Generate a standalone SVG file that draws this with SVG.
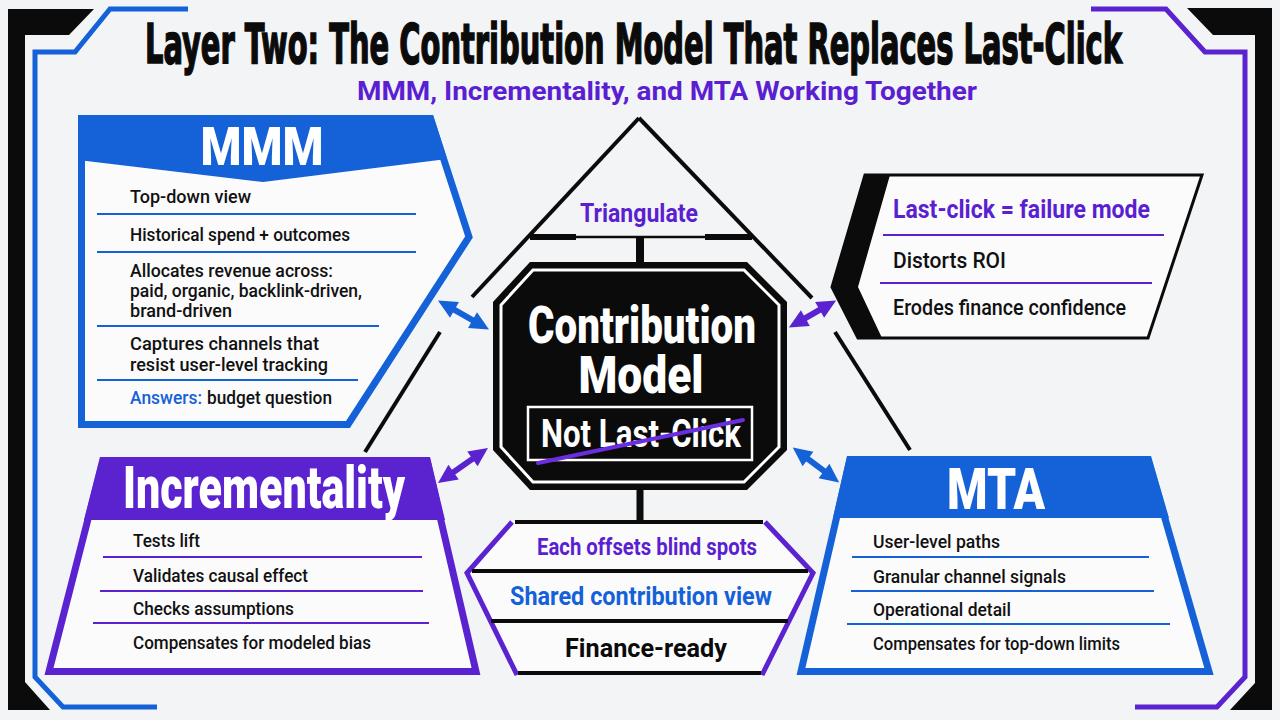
<svg xmlns="http://www.w3.org/2000/svg" width="1280" height="720" viewBox="0 0 1280 720">
<defs>
<style>
.title{font-family:"DejaVu Sans","Liberation Sans",sans-serif;font-weight:bold;font-stretch:condensed;font-size:56px;fill:#0b0b0b;stroke:#0b0b0b;stroke-width:1.6px}
.sub{font-family:Roboto,"Liberation Sans",sans-serif;font-weight:700;font-size:25px;fill:#5b1fd2}
.item{font-family:Roboto,"Liberation Sans",sans-serif;font-weight:500;font-size:19px;fill:#111}
.hdr{font-family:Roboto,"Liberation Sans",sans-serif;font-weight:900;fill:#fff}
.ctr{font-family:Roboto,"Liberation Sans",sans-serif;font-weight:900;fill:#fff}
.bold{font-family:Roboto,"Liberation Sans",sans-serif;font-weight:700}
.blueS{stroke:#1461d8}
.purpS{stroke:#5b22d0}
.sep{stroke-width:2;fill:none}
.tri{stroke:#0b0b0b;stroke-width:4;fill:none}
.arrB{stroke:#1461d8;stroke-width:6;fill:none}
.arrP{stroke:#5b22d0;stroke-width:6;fill:none}
</style>
<marker id="hb" markerUnits="userSpaceOnUse" markerWidth="20" markerHeight="18" refX="4" refY="9" orient="auto-start-reverse" overflow="visible"><path d="M0,0 L19,9 L0,18 z" fill="#1461d8"/></marker>
<marker id="hp" markerUnits="userSpaceOnUse" markerWidth="20" markerHeight="18" refX="4" refY="9" orient="auto-start-reverse" overflow="visible"><path d="M0,0 L19,9 L0,18 z" fill="#5b22d0"/></marker>
</defs>
<rect width="1280" height="720" fill="#f3f4f5"/>

<g id="frame">
<polygon points="8,9 94,9 69,35 25,35 25,682 50,710 8,710" fill="#0b0b0b"/>
<path d="M188,9 L110,9 L75,52 L35,52 L35,677 L63,707 L157,707" fill="none" stroke="#1461d8" stroke-width="5"/>
<polygon points="1187,8 1272,8 1272,710 1230,710 1255,683 1255,35 1213,35" fill="#0b0b0b"/>
<path d="M1091,9 L1166,9 L1205,52 L1245,52 L1245,677 L1217,707 L1135,707" fill="none" stroke="#5b22d0" stroke-width="5"/>
</g>

<g id="title">
<text class="title" x="145" y="63" textLength="977" lengthAdjust="spacingAndGlyphs">Layer Two: The Contribution Model That Replaces Last-Click</text>
<text class="sub" x="357" y="100" textLength="620" lengthAdjust="spacingAndGlyphs">MMM, Incrementality, and MTA Working Together</text>
</g>

<g id="connectors">
<path class="tri" d="M639,118 L472,297"/>
<path class="tri" d="M440,332 L365,452"/>
<path class="tri" d="M639,118 L812,298"/>
<path class="tri" d="M835,332 L910,450"/>
<line x1="530" y1="237" x2="576" y2="237" stroke="#0b0b0b" stroke-width="6"/>
<line x1="576" y1="237" x2="705" y2="237" stroke="#0b0b0b" stroke-width="2.5"/>
<line x1="705" y1="237" x2="752" y2="237" stroke="#0b0b0b" stroke-width="6"/>
<line x1="640" y1="237" x2="640" y2="264" stroke="#0b0b0b" stroke-width="8"/>
<line x1="640" y1="488" x2="640" y2="524" stroke="#0b0b0b" stroke-width="7"/>
<line class="arrB" x1="451" y1="307.9" x2="476" y2="322.1" marker-start="url(#hb)" marker-end="url(#hb)"/>
<line class="arrP" x1="801.9" y1="320.1" x2="823.1" y2="307.9" marker-start="url(#hp)" marker-end="url(#hp)"/>
<line class="arrP" x1="450.3" y1="474.4" x2="475.7" y2="456.6" marker-start="url(#hp)" marker-end="url(#hp)"/>
<line class="arrB" x1="804.8" y1="456.6" x2="827.2" y2="473.4" marker-start="url(#hb)" marker-end="url(#hb)"/>
</g>

<g id="triangulate">
<text class="bold" x="639" y="222" font-size="25" fill="#5b1fd2" text-anchor="middle" textLength="118" lengthAdjust="spacingAndGlyphs">Triangulate</text>
</g>

<g id="mmm">
<polygon points="81.5,118.5 430.5,118.5 469,237 348,424.5 81.5,424.5" fill="#fbfbfc" stroke="#1461d8" stroke-width="7"/>
<polygon points="78,115 433,115 447,159 263,182 78,160" fill="#1461d8"/>
<text class="hdr" x="262" y="165" font-size="53" text-anchor="middle" textLength="123" lengthAdjust="spacingAndGlyphs">MMM</text>
<g class="blueS sep">
<line x1="97" y1="214" x2="416" y2="214"/>
<line x1="97" y1="252" x2="416" y2="252"/>
<line x1="97" y1="326" x2="379" y2="326"/>
<line x1="97" y1="380" x2="358" y2="380"/>
</g>
<text class="item" x="130" y="203" textLength="121" lengthAdjust="spacingAndGlyphs">Top-down view</text>
<text class="item" x="130" y="241" textLength="220" lengthAdjust="spacingAndGlyphs">Historical spend + outcomes</text>
<text class="item" x="130" y="277" textLength="203" lengthAdjust="spacingAndGlyphs">Allocates revenue across:</text>
<text class="item" x="130" y="297" textLength="232" lengthAdjust="spacingAndGlyphs">paid, organic, backlink-driven,</text>
<text class="item" x="130" y="317" textLength="102" lengthAdjust="spacingAndGlyphs">brand-driven</text>
<text class="item" x="130" y="350" textLength="189" lengthAdjust="spacingAndGlyphs">Captures channels that</text>
<text class="item" x="130" y="371" textLength="198" lengthAdjust="spacingAndGlyphs">resist user-level tracking</text>
<text class="item" x="130" y="404" textLength="72" lengthAdjust="spacingAndGlyphs" style="fill:#1461d8">Answers:</text>
<text class="item" x="207" y="404" textLength="125" lengthAdjust="spacingAndGlyphs">budget question</text>
</g>

<g id="lastclick">
<polygon points="865,175 1202,175 1148,338 858,338 832,287" fill="#fbfbfc" stroke="#0b0b0b" stroke-width="3"/>
<polygon points="865,175 890,175 858,287 882,338 858,338 832,287" fill="#0b0b0b"/>
<g class="purpS sep">
<line x1="883" y1="235" x2="1164" y2="235"/>
<line x1="880" y1="283" x2="1152" y2="283"/>
</g>
<text class="bold" x="893" y="218" font-size="25" fill="#5b1fd2" textLength="257" lengthAdjust="spacingAndGlyphs">Last-click = failure mode</text>
<text class="item" x="893" y="268" style="font-size:22px" textLength="113" lengthAdjust="spacingAndGlyphs">Distorts ROI</text>
<text class="item" x="893" y="315" style="font-size:22px" textLength="233" lengthAdjust="spacingAndGlyphs">Erodes finance confidence</text>
</g>

<g id="contribution">
<polygon points="530,262 747,262 787,302 787,450 747,490 530,490 493,450 493,302" fill="#0b0b0b"/>
<polygon points="533,270 744,270 779,305 779,447 744,482 533,482 501,447 501,305" fill="none" stroke="#fff" stroke-width="3"/>
<text class="ctr" x="642" y="343" font-size="52" text-anchor="middle" textLength="228" lengthAdjust="spacingAndGlyphs">Contribution</text>
<text class="ctr" x="641" y="393" font-size="51" text-anchor="middle" textLength="125" lengthAdjust="spacingAndGlyphs">Model</text>
<rect x="528" y="407" width="224" height="53" fill="none" stroke="#fff" stroke-width="2.5"/>
<text class="ctr" x="641" y="447" font-size="38" text-anchor="middle" textLength="200" lengthAdjust="spacingAndGlyphs" style="font-weight:700">Not Last-Click</text>
<line x1="538" y1="463" x2="743" y2="420" stroke="#6a2ee0" stroke-width="4" stroke-linecap="round"/>
</g>

<g id="incrementality">
<polygon points="103,460.5 427,460.5 476,671.5 49,671.5" fill="#fbfbfc" stroke="#5b22d0" stroke-width="7"/>
<polygon points="100,457 430,457 445,520 84,520" fill="#5b22d0"/>
<text class="hdr" x="123" y="508" font-size="60" textLength="282" lengthAdjust="spacingAndGlyphs">Incrementality</text>
<g class="purpS sep">
<line x1="103" y1="557" x2="422" y2="557"/>
<line x1="100" y1="591" x2="423" y2="591"/>
<line x1="93" y1="623" x2="429" y2="623"/>
</g>
<text class="item" x="133" y="547" textLength="67" lengthAdjust="spacingAndGlyphs">Tests lift</text>
<text class="item" x="133" y="582" textLength="175" lengthAdjust="spacingAndGlyphs">Validates causal effect</text>
<text class="item" x="133" y="615" textLength="161" lengthAdjust="spacingAndGlyphs">Checks assumptions</text>
<text class="item" x="133" y="649" textLength="238" lengthAdjust="spacingAndGlyphs">Compensates for modeled bias</text>
</g>

<g id="mta">
<polygon points="850,459.5 1148,459.5 1209,671.5 801,671.5" fill="#fbfbfc" stroke="#1461d8" stroke-width="7"/>
<polygon points="847,456 1151,456 1169,518 833,518" fill="#1461d8"/>
<text class="hdr" x="996" y="509" font-size="57" text-anchor="middle" textLength="98" lengthAdjust="spacingAndGlyphs">MTA</text>
<g class="blueS sep">
<line x1="852" y1="557" x2="1149" y2="557"/>
<line x1="851" y1="591" x2="1154" y2="591"/>
<line x1="847" y1="624" x2="1170" y2="624"/>
</g>
<text class="item" x="873" y="548" textLength="127" lengthAdjust="spacingAndGlyphs">User-level paths</text>
<text class="item" x="873" y="583" textLength="193" lengthAdjust="spacingAndGlyphs">Granular channel signals</text>
<text class="item" x="873" y="616" textLength="138" lengthAdjust="spacingAndGlyphs">Operational detail</text>
<text class="item" x="873" y="650" textLength="247" lengthAdjust="spacingAndGlyphs">Compensates for top-down limits</text>
</g>

<g id="synthesis">
<polygon points="512,522 765,522 813,573 762,675 517,675 467,573" fill="#fbfbfc"/>
<path d="M512,522 L467,573 L517,675 M765,522 L813,573 L762,675" fill="none" stroke="#5b22d0" stroke-width="5"/>
<g stroke="#0b0b0b" stroke-width="4">
<line x1="515" y1="522" x2="763" y2="522"/>
<line x1="472" y1="571" x2="808" y2="571"/>
<line x1="491" y1="621" x2="788" y2="621"/>
<line x1="518" y1="673" x2="761" y2="673"/>
</g>
<text class="bold" x="647" y="555" font-size="23" fill="#5b1fd2" text-anchor="middle" textLength="220" lengthAdjust="spacingAndGlyphs">Each offsets blind spots</text>
<text class="bold" x="641" y="605" font-size="26" fill="#1461d8" text-anchor="middle" textLength="262" lengthAdjust="spacingAndGlyphs">Shared contribution view</text>
<text class="bold" x="646" y="657" font-size="26" fill="#0b0b0b" text-anchor="middle" textLength="162" lengthAdjust="spacingAndGlyphs">Finance-ready</text>
</g>
</svg>
